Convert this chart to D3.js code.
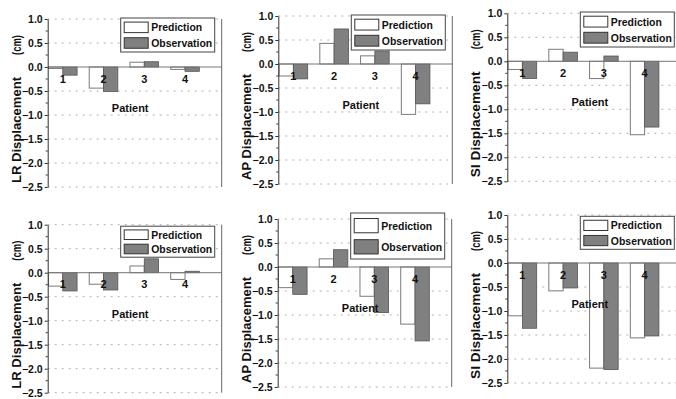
<!DOCTYPE html>
<html>
<head>
<meta charset="utf-8">
<script src="https://cdn.jsdelivr.net/npm/d3@7"></script>
<style>
  body { margin: 0; background: #fff; }
  svg { display: block; font-family: "Liberation Sans", Arial, sans-serif; }
</style>
</head>
<body>
<svg id="chart" width="676" height="399"></svg>
<script>
// patients on the x axis
const patients = [1, 2, 3, 4];
const yTicks = [1.0, 0.5, 0.0, -0.5, -1.0, -1.5, -2.0, -2.5];
const legendLabels = ["Prediction", "Observation"];

// top row
const lrPredTop = [-0.03, -0.44, 0.10, -0.05];
const lrObsTop  = [-0.17, -0.51, 0.11, -0.09];
const apPredTop = [-0.25, 0.43, 0.17, -1.05];
const apObsTop  = [-0.31, 0.73, 0.27, -0.83];
const siPredTop = [-0.17, 0.25, -0.36, -1.53];
const siObsTop  = [-0.36, 0.19, 0.11, -1.37];

// bottom row
const lrPredBot = [-0.28, -0.24, 0.14, -0.14];
const lrObsBot  = [-0.38, -0.36, 0.29, 0.03];
const apPredBot = [-0.43, 0.17, -0.61, -1.19];
const apObsBot  = [-0.57, 0.36, -0.95, -1.54];
const siPredBot = [-1.10, -0.58, -2.19, -1.56];
const siObsBot  = [-1.36, -0.52, -2.22, -1.52];

const panels = [
  {axis: "LR", pred: lrPredTop, obs: lrObsTop, x0: 47.7,  y0: 19,    lgTop: -1,   lgH: 34},
  {axis: "AP", pred: apPredTop, obs: apObsTop, x0: 278.3, y0: 16,    lgTop: -1,   lgH: 35},
  {axis: "SI", pred: siPredTop, obs: siObsTop, x0: 507.3, y0: 13.3,  lgTop: -1.3, lgH: 35},
  {axis: "LR", pred: lrPredBot, obs: lrObsBot, x0: 47.7,  y0: 224.7, lgTop: 1.5,  lgH: 31},
  {axis: "AP", pred: apPredBot, obs: apObsBot, x0: 277.7, y0: 219,   lgTop: -6,   lgH: 46},
  {axis: "SI", pred: siPredBot, obs: siObsBot, x0: 507.3, y0: 215,   lgTop: 1.3,  lgH: 33}
];

const W = 174, H = 168, barW = 14.3;
const gray = "#808080";

const svg = d3.select("#chart");

const drawPanel = (p) => {
  const g = svg.append("g").attr("transform", `translate(${p.x0},${p.y0})`);

  const x = d3.scaleLinear().domain([0.63, 4.9]).range([0, W]);
  const y = d3.scaleLinear().domain([1.0, -2.5]).range([0, H]);

  // dotted grid
  g.selectAll(".grid")
    .data(yTicks.filter(d => d !== 0))
    .enter()
    .append("line")
    .attr("x1", 0).attr("x2", W)
    .attr("y1", d => y(d)).attr("y2", d => y(d))
    .attr("stroke", "#b0b0b0")
    .attr("stroke-width", 1)
    .attr("stroke-dasharray", "2,5");

  // bars
  g.selectAll(".pred")
    .data(p.pred)
    .enter()
    .append("rect")
    .attr("x", (d, i) => x(patients[i]) - barW)
    .attr("y", d => y(Math.max(0, d)))
    .attr("width", barW)
    .attr("height", d => Math.abs(y(d) - y(0)))
    .attr("fill", "#fff")
    .attr("stroke", "#7a7a7a")
    .attr("stroke-width", 1);

  g.selectAll(".obs")
    .data(p.obs)
    .enter()
    .append("rect")
    .attr("x", (d, i) => x(patients[i]))
    .attr("y", d => y(Math.max(0, d)))
    .attr("width", barW)
    .attr("height", d => Math.abs(y(d) - y(0)))
    .attr("fill", gray)
    .attr("stroke", "#555")
    .attr("stroke-width", 0.8);

  // zero line
  g.append("line")
    .attr("x1", 0).attr("x2", W)
    .attr("y1", y(0)).attr("y2", y(0))
    .attr("stroke", "#777")
    .attr("stroke-width", 1);

  // left axis
  const yAxis = d3.axisLeft(y).tickValues(yTicks).tickSize(3).tickSizeOuter(0).tickPadding(2)
    .tickFormat(d3.format(".1f"));
  const ax = g.append("g").call(yAxis);
  ax.select(".domain").attr("stroke", "#333");
  ax.selectAll(".tick line").attr("stroke", "#333");
  ax.selectAll("text")
    .attr("font-size", "10.5px")
    .attr("font-weight", "bold")
    .attr("fill", "#111");
  // minor ticks
  g.selectAll(".minor")
    .data(d3.range(-2.25, 1, 0.5))
    .enter()
    .append("line")
    .attr("x1", -2).attr("x2", 0)
    .attr("y1", d => y(d)).attr("y2", d => y(d))
    .attr("stroke", "#333");

  // right frame
  g.append("line")
    .attr("x1", W).attr("x2", W)
    .attr("y1", 0).attr("y2", H)
    .attr("stroke", "#666");

  // category labels
  g.selectAll(".cat")
    .data(patients)
    .enter()
    .append("text")
    .attr("x", d => x(d))
    .attr("y", y(0) + 15.5)
    .attr("text-anchor", "middle")
    .attr("font-size", "11px")
    .attr("font-weight", "bold")
    .attr("fill", "#111")
    .text(d => d);

  g.append("text")
    .attr("x", 82.5)
    .attr("y", y(0) + 45)
    .attr("text-anchor", "middle")
    .attr("font-size", "11px")
    .attr("font-weight", "bold")
    .attr("fill", "#111")
    .text("Patient");

  // y label
  g.append("text")
    .attr("transform", `translate(-27,${111}) rotate(-90)`)
    .attr("text-anchor", "middle")
    .attr("font-size", "13px")
    .attr("font-weight", "bold")
    .attr("textLength", 106)
    .attr("lengthAdjust", "spacingAndGlyphs")
    .attr("fill", "#111")
    .text(p.axis + " Displacement");
  g.append("text")
    .attr("transform", `translate(-27,${26}) rotate(-90)`)
    .attr("text-anchor", "middle")
    .attr("font-size", "13px")
    .attr("font-weight", "bold")
    .attr("textLength", 20)
    .attr("lengthAdjust", "spacingAndGlyphs")
    .attr("fill", "#111")
    .text("(cm)");

  // legend
  const lg = g.append("g").attr("transform", `translate(73,${p.lgTop})`);
  lg.append("rect")
    .attr("width", 94).attr("height", p.lgH)
    .attr("fill", "#fff")
    .attr("stroke", "#444");
  const sh = p.lgH * 0.31;
  const rows = lg.selectAll(".lrow")
    .data(legendLabels)
    .enter()
    .append("g")
    .attr("transform", (d, i) => `translate(3.5,${p.lgH * (i === 0 ? 0.12 : 0.58)})`);
  rows.append("rect")
    .attr("width", 24).attr("height", sh)
    .attr("fill", (d, i) => i === 0 ? "#fff" : gray)
    .attr("stroke", "#333");
  rows.append("text")
    .attr("x", 27)
    .attr("y", sh / 2 + 4)
    .attr("font-size", "11px")
    .attr("font-weight", "bold")
    .attr("fill", "#111")
    .attr("textLength", (d, i) => i === 0 ? 51 : 61)
    .attr("lengthAdjust", "spacingAndGlyphs")
    .text(d => d);
};

panels.forEach(drawPanel);
</script>
</body>
</html>
